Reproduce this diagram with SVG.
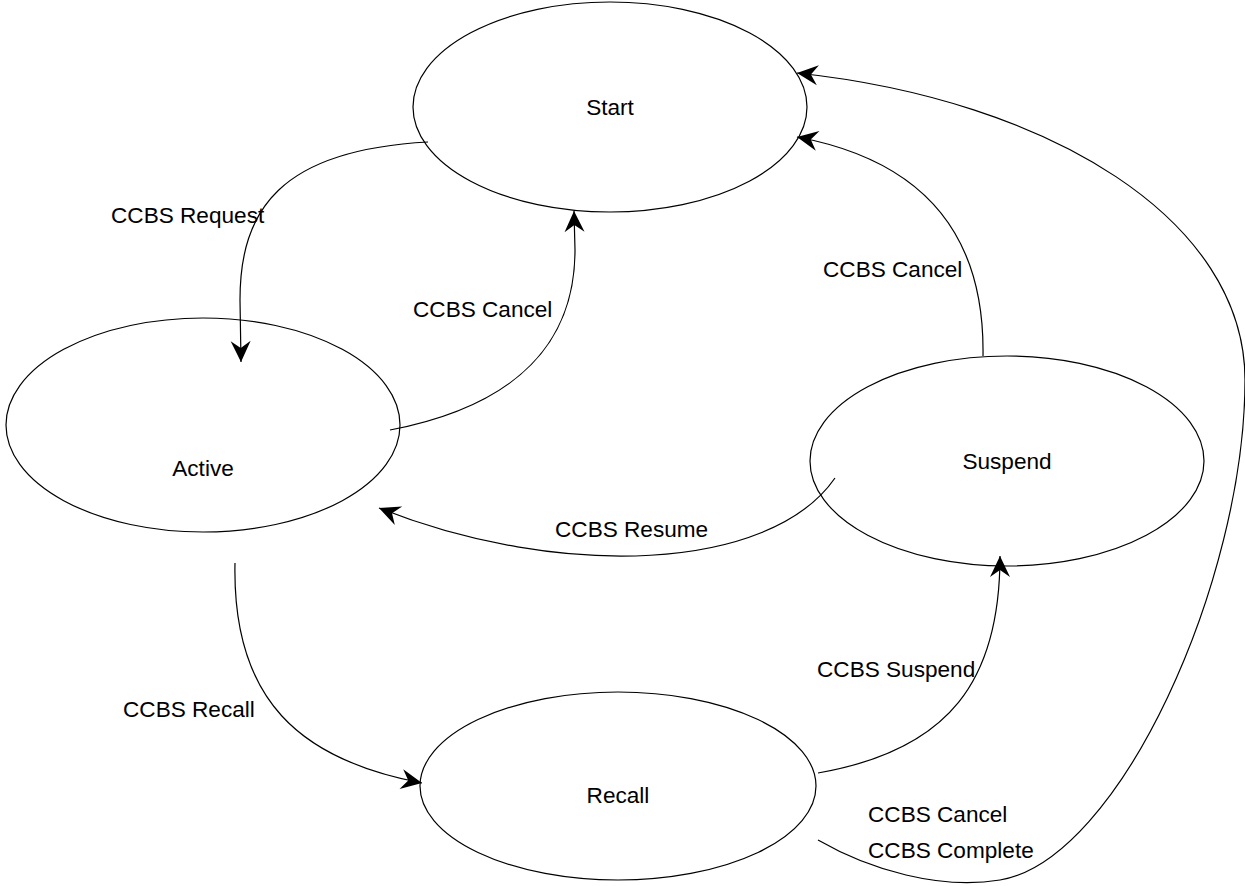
<svg xmlns="http://www.w3.org/2000/svg" width="1245" height="886" viewBox="0 0 1245 886">
<style>
.node ellipse{fill:#fff;stroke:#000;stroke-width:1.2}
text{font-family:"Liberation Sans",Arial,sans-serif;font-size:22.6px;fill:#000}
.nt{text-anchor:middle}
.edge{fill:none;stroke:#000;stroke-width:1.2}
</style>
<defs>
<marker id="arr" viewBox="-22 -11 23 22" markerWidth="23" markerHeight="22" refX="0" refY="0" markerUnits="userSpaceOnUse" orient="auto">
<path d="M0,0 L-21,-10 L-14,0 L-21,10 Z" fill="#000"/>
</marker>
</defs>
<rect width="1245" height="886" fill="#fff"/>
<g id="start" class="node"><ellipse cx="610" cy="107" rx="197" ry="105"/><text class="nt" x="610" y="115">Start</text></g>
<g id="active" class="node"><ellipse cx="203" cy="425" rx="197" ry="107"/><text class="nt" x="203" y="476">Active</text></g>
<g id="suspend" class="node"><ellipse cx="1007" cy="461" rx="197" ry="105"/><text class="nt" x="1007" y="469">Suspend</text></g>
<g id="recall" class="node"><ellipse cx="618" cy="786" rx="198" ry="94"/><text class="nt" x="618" y="803">Recall</text></g>
<g id="connectors">
<path class="edge" marker-end="url(#arr)" d="M428,142 C280,150 240,210 240,300 L241,362"/>
<path class="edge" marker-end="url(#arr)" d="M390,430 C520,405 575,340 575,250 L574,211"/>
<path class="edge" marker-end="url(#arr)" d="M983,356 C985,230 920,160 797,137"/>
<path class="edge" marker-end="url(#arr)" d="M818,840 C870,870 940,890 1000,880 C1120,860 1245,580 1245,380 C1245,220 1050,100 797,73"/>
<path class="edge" marker-end="url(#arr)" d="M835,478 C770,572 560,580 379,508"/>
<path class="edge" marker-end="url(#arr)" d="M235,563 C232,700 300,760 422,783"/>
<path class="edge" marker-end="url(#arr)" d="M818,773 C950,750 1000,680 1000,556"/>
<text x="111" y="223">CCBS Request</text>
<text x="413" y="317">CCBS Cancel</text>
<text x="823" y="277">CCBS Cancel</text>
<text x="555" y="537">CCBS Resume</text>
<text x="123" y="717">CCBS Recall</text>
<text x="817" y="677">CCBS Suspend</text>
<text x="868" y="822">CCBS Cancel</text>
<text x="868" y="858">CCBS Complete</text>
</g>
</svg>
